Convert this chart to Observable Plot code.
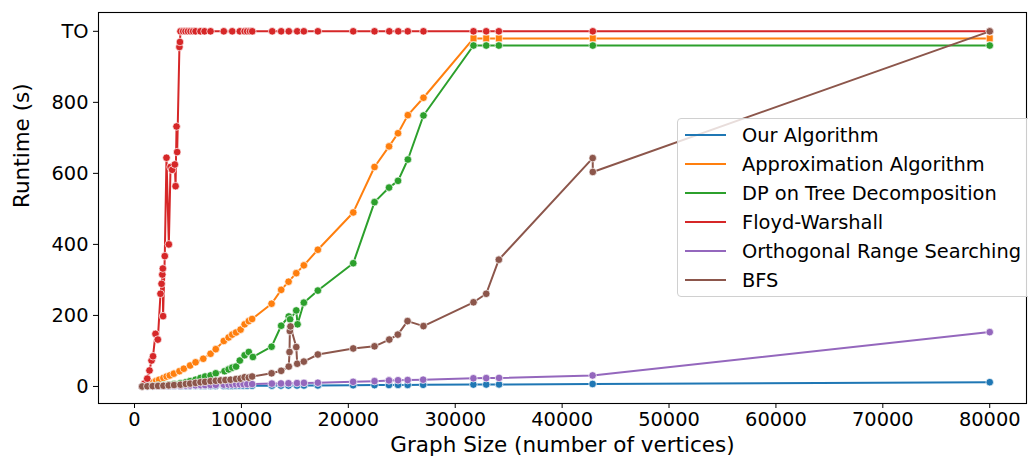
<!DOCTYPE html>
<html>
<head>
<meta charset="utf-8">
<script src="https://cdn.jsdelivr.net/npm/d3@7"></script>
<script src="https://cdn.jsdelivr.net/npm/@observablehq/plot@0.6"></script>
<style>
  html, body { margin: 0; padding: 0; background: #fff; }
  #wrap { position: relative; width: 1028px; height: 459px; font-family: "DejaVu Sans", sans-serif; }
  #legend { position: absolute; left: 677px; top: 118px; width: 360px; height: 179px; box-sizing: border-box;
    border: 1px solid #d0d0d0; border-radius: 4px; background: rgba(255,255,255,0.8); }
  .row { position: absolute; left: 0; height: 29px; display: flex; align-items: center; font-size: 19.4px; color: #000; white-space: nowrap; }
  .sw { width: 41px; height: 2px; margin-left: 7px; margin-right: 16px; }
</style>
</head>
<body>
<div id="wrap"><div id="legend"></div></div>
<script>
const seriesNames = ["Our Algorithm", "Approximation Algorithm", "DP on Tree Decomposition", "Floyd-Warshall", "Orthogonal Range Searching", "BFS"];
const seriesColors = ["#1f77b4", "#ff7f0e", "#2ca02c", "#d62728", "#9467bd", "#8c564b"];

const yTicks = [0, 200, 400, 600, 800, 1000];
const yTickLabels = ["0", "200", "400", "600", "800", "TO"];
const xTicks = [0, 10000, 20000, 30000, 40000, 50000, 60000, 70000, 80000];

const ourX = [720, 1200, 1700, 2200, 2700, 3200, 3700, 4300, 4800, 5200, 5700, 6200, 6600, 7100, 7600, 8350, 8800, 9150, 9500, 9850, 10200, 10550, 11000, 12850, 13700, 14400, 15200, 15850, 17150, 20450, 22450, 23800, 24650, 25550, 27000, 31700, 32900, 34100, 42850, 80000];
const ourY = [0, 0.2, 0.3, 0.4, 0.5, 0.6, 0.7, 0.8, 0.9, 1, 1.1, 1.1, 1.2, 1.3, 1.4, 1.5, 1.6, 1.6, 1.7, 1.8, 1.9, 1.9, 2, 2.3, 2.4, 2.5, 2.6, 2.7, 2.9, 3.4, 3.8, 4, 4.2, 4.3, 4.6, 5.3, 5.5, 5.7, 7, 12];

const apxX = [720, 1000, 1200, 1500, 1700, 2000, 2300, 2700, 3000, 3300, 3680, 4200, 4610, 5200, 5710, 6430, 7110, 7600, 8350, 8800, 9140, 9500, 9920, 10300, 10690, 11000, 12820, 13720, 14410, 15130, 15840, 17150, 20460, 22450, 23810, 24650, 25570, 27030, 31710, 32900, 34080, 42870, 80000];
const apxY = [0, 2, 5, 9, 11, 15, 19, 24, 28, 31, 36, 43, 50, 59, 68, 78, 92, 105, 128, 138, 146, 152, 160, 175, 184, 190, 233, 272, 295, 319, 341, 385, 490, 618, 676, 713, 764, 813, 980, 980, 980, 980, 980];

const dpX = [720, 1200, 1700, 2200, 2700, 3200, 3700, 4300, 4800, 5200, 5710, 6170, 6600, 7110, 7600, 8420, 8800, 9140, 9500, 9850, 10300, 10690, 11070, 12820, 13720, 14430, 14550, 15130, 15250, 15840, 17150, 20460, 22450, 23810, 24650, 25570, 27030, 31710, 32900, 34080, 42870, 80000];
const dpY = [0, 1, 2, 3, 4, 5, 7, 9, 12, 15, 19, 24, 28, 31, 37, 43, 48, 53, 56, 73, 88, 97, 83, 112, 171, 197, 189, 214, 175, 236, 270, 347, 519, 560, 579, 639, 763, 960, 960, 960, 960, 960];

const fwX = [720, 920, 1190, 1400, 1590, 1730, 1960, 2180, 2430, 2530, 2600, 2650, 2670, 2830, 2990, 3210, 3370, 3520, 3770, 3840, 3930, 3990, 4200, 4250, 4300, 4550, 4770, 5000, 5240, 5480, 5710, 6170, 6550, 7110, 8350, 9140, 9850, 10300, 10540, 10800, 11010, 12880, 13720, 14430, 15220, 15840, 17150, 20460, 22450, 23830, 24670, 25560, 27030, 31710, 32900, 34080, 42870, 80000];
const fwY = [0, 8, 22, 45, 73, 85, 148, 132, 261, 289, 315, 332, 198, 367, 644, 400, 618, 610, 625, 564, 732, 660, 956, 970, 1000, 1000, 1000, 1000, 1000, 1000, 1000, 1000, 1000, 1000, 1000, 1000, 1000, 1000, 1000, 1000, 1000, 1000, 1000, 1000, 1000, 1000, 1000, 1000, 1000, 1000, 1000, 1000, 1000, 1000, 1000, 1000, 1000, 1000];

const orsX = [720, 1200, 1700, 2200, 2700, 3200, 3700, 4300, 4800, 5200, 5700, 6200, 6600, 7100, 7600, 8350, 8800, 9150, 9500, 9850, 10200, 10550, 11000, 12850, 13700, 14400, 15200, 15850, 17150, 20450, 22450, 23800, 24650, 25550, 27000, 31700, 32900, 34100, 42850, 80000];
const orsY = [0, 0.3, 0.6, 0.9, 1.2, 1.5, 1.8, 2.2, 2.5, 2.8, 3.2, 3.5, 3.8, 4.2, 4.5, 5, 5.3, 5.5, 5.8, 6, 6.3, 6.5, 6.8, 8, 8.5, 9, 9.5, 10, 10.5, 13, 15, 17, 17.5, 18, 19, 23, 23.5, 24, 31, 153];

const bfsX = [720, 1200, 1700, 2200, 2700, 3200, 3700, 4300, 4800, 5200, 5710, 6170, 6600, 7110, 7600, 8050, 8500, 8980, 9500, 9920, 10300, 10690, 11000, 12820, 13720, 14430, 14500, 14530, 14590, 15130, 15220, 15840, 17150, 20460, 22450, 23830, 24630, 25540, 27030, 31710, 32900, 34080, 42860, 42870, 80000];
const bfsY = [0, 0.5, 1, 1.5, 2, 3, 4, 5, 7, 8, 10, 12, 13, 15, 16, 17, 18, 19, 21, 22, 26, 25, 28, 37, 44, 56, 97, 156, 169, 111, 64, 70, 90, 107, 113, 132, 146, 184, 170, 237, 261, 357, 643, 604, 1000];

const allX = [ourX, apxX, dpX, fwX, orsX, bfsX];
const allY = [ourY, apxY, dpY, fwY, orsY, bfsY];

const rows = [];
seriesNames.forEach((name, i) => {
  allX[i].forEach((x, j) => rows.push({series: name, x, y: allY[i][j], to: i === 1 && allY[i][j] >= 980}));
});

const marks = [];
seriesNames.forEach((name) => {
  const d = rows.filter(r => r.series === name);
  marks.push(Plot.line(d, {x: "x", y: "y", stroke: "series", strokeWidth: 2, strokeLinejoin: "round"}));
  marks.push(Plot.dot(d.filter(r => !r.to), {x: "x", y: "y", fill: "series", stroke: "white", strokeWidth: 0.7, r: 3.8}));
  marks.push(Plot.dot(d.filter(r => r.to), {x: "x", y: "y", fill: "series", stroke: "white", strokeWidth: 0.7, r: 3.9, symbol: "square"}));
});

const chart = Plot.plot({
  width: 1028,
  height: 459,
  marginLeft: 98,
  marginRight: 2,
  marginTop: 12,
  marginBottom: 56,
  style: {fontFamily: "DejaVu Sans, sans-serif", fontSize: "19.4px", background: "white", color: "black"},
  x: {domain: [-3370, 83440], ticks: xTicks, tickFormat: d => String(d), tickSize: 5, tickPadding: 4, label: null},
  y: {domain: [-48, 1053], ticks: yTicks, tickFormat: d => yTickLabels[yTicks.indexOf(d)], tickSize: 5, tickPadding: 5, label: null},
  color: {domain: seriesNames, range: seriesColors},
  marks: [
    ...marks,
    Plot.frame({stroke: "black", strokeWidth: 1.1}),
    Plot.text(["Graph Size (number of vertices)"], {frameAnchor: "bottom", dy: 42, text: d => d, fontSize: 21.5, lineAnchor: "middle", fill: "black"}),
    Plot.text(["Runtime (s)"], {frameAnchor: "left", dx: -76, rotate: -90, text: d => d, fontSize: 21.5, lineAnchor: "middle", fill: "black"})
  ]
});
document.getElementById("wrap").prepend(chart);

const legend = document.getElementById("legend");
seriesNames.forEach((name, i) => {
  const row = document.createElement("div");
  row.className = "row";
  row.style.top = (1.5 + i * 29) + "px";
  const sw = document.createElement("div");
  sw.className = "sw";
  sw.style.background = seriesColors[i];
  const t = document.createElement("span");
  t.textContent = name;
  row.appendChild(sw);
  row.appendChild(t);
  legend.appendChild(row);
});
</script>
</body>
</html>
